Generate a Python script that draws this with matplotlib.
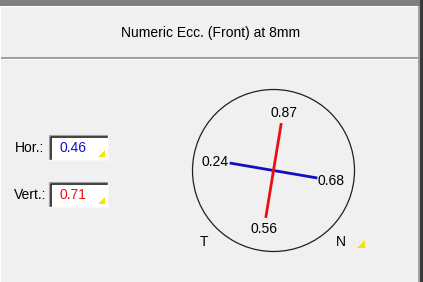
import numpy as np
import matplotlib
matplotlib.use("Agg")
import matplotlib.pyplot as plt
from matplotlib.patches import Rectangle, Circle, Polygon

plt.rcParams['font.family'] = ['Liberation Sans', 'DejaVu Sans']

# values shown on the panel
title = "Numeric Ecc. (Front) at 8mm"
field_labels = ["Hor.:", "Vert.:"]
field_values = [0.46, 0.71]
field_colors = ["#1010d0", "#e01010"]
# ends of the two meridians: (start, end)
hor_ends = [0.24, 0.68]
vert_ends = [0.87, 0.56]
side_labels = ["T", "N"]

W, H = 423, 282
fig = plt.figure(figsize=(W / 100, H / 100), dpi=100, facecolor="#f0f0f0")
ax = fig.add_axes([0, 0, 1, 1])
ax.set_xlim(0, W)
ax.set_ylim(H, 0)
ax.axis("off")

# window frame
ax.add_patch(Rectangle((0, 0), W, 6, color="#808080", lw=0))
ax.add_patch(Rectangle((0, 6), 1, H, color="#ffffff", lw=0))
ax.add_patch(Rectangle((0, 6), 418, 1.2, color="#ffffff", lw=0))
ax.add_patch(Rectangle((418, 6), 1.5, H, color="#a0a0a0", lw=0))
ax.add_patch(Rectangle((419.5, 0), 4, H, color="#3a3a3a", lw=0))
ax.add_patch(Rectangle((1, 57), 417, 2, color="#a0a0a0", lw=0))
ax.add_patch(Rectangle((1, 59), 417, 1.2, color="#ffffff", lw=0))

ax.text(211, 33, title, ha="center", va="center", fontsize=10, color="#000000")


def corner_tri(x, y, s):
    # little yellow triangle with right angle at (x, y) bottom-right
    ax.add_patch(Polygon([(x, y), (x - s, y), (x, y - s)], closed=True,
                         color="#f5e400", lw=0))


# fields
box_y = [135, 182]
for lab, val, col, by in zip(field_labels, field_values, field_colors, box_y):
    ax.text(30, by + 13, lab, ha="center", va="center", fontsize=10)
    ax.add_patch(Rectangle((49, by), 59, 25, facecolor="#ffffff", lw=0))
    ax.plot([49, 49, 108], [by + 25, by, by], color="#a0a0a0", lw=0.8)
    ax.plot([50.5, 50.5, 107], [by + 24, by + 1.5, by + 1.5], color="#202020", lw=1.2)
    ax.plot([108, 108, 49], [by, by + 25, by + 25], color="#f8f8f8", lw=0.8)
    ax.text(59, by + 13, "%.2f" % val, ha="left", va="center", fontsize=10, color=col)
    corner_tri(105, by + 22, 7)

# circle diagram
cx, cy, r = 273.5, 170.5, 81
ax.add_patch(Circle((cx, cy), r, fill=False, ec="#202020", lw=0.9))

hor_ang = np.deg2rad(-9.7)
hor_len = 44.5
vert_ang = np.deg2rad(-99.3)
vert_len = 48

hx = cx + np.array([-1, 1]) * hor_len * np.cos(hor_ang)
hy = cy - np.array([-1, 1]) * hor_len * np.sin(hor_ang)
vx = cx + np.array([-1, 1]) * vert_len * np.cos(vert_ang)
vy = cy - np.array([-1, 1]) * vert_len * np.sin(vert_ang)
ax.plot(hx, hy, color="#1010c0", lw=2.0, solid_capstyle="butt")
ax.plot(vx, vy, color="#e81010", lw=2.0, solid_capstyle="butt")

ax.text(hx[0] - 1, hy[0] - 1, "%.2f" % hor_ends[0], ha="right", va="center", fontsize=10)
ax.text(hx[1] + 0, hy[1] + 3, "%.2f" % hor_ends[1], ha="left", va="center", fontsize=10)
ax.text(vx[0] + 3, vy[0] - 10, "%.2f" % vert_ends[0], ha="center", va="center", fontsize=10)
ax.text(vx[1] - 2, vy[1] + 11, "%.2f" % vert_ends[1], ha="center", va="center", fontsize=10)

ax.text(204, 242, side_labels[0], ha="center", va="center", fontsize=10)
ax.text(341, 242, side_labels[1], ha="center", va="center", fontsize=10)
corner_tri(365, 248, 8)

fig.savefig("out.png", dpi=100, facecolor=fig.get_facecolor())
